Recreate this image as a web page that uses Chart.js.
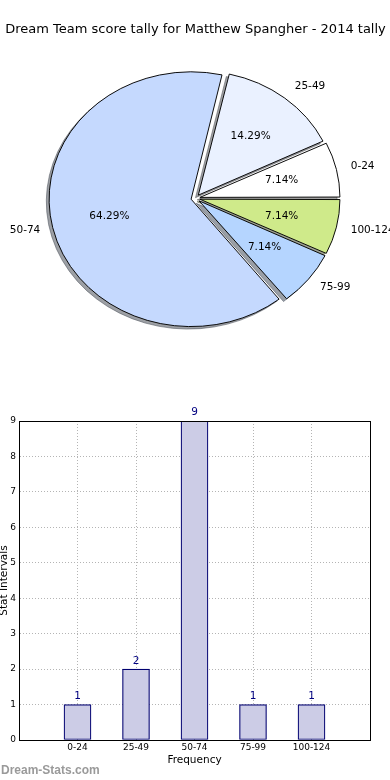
<!DOCTYPE html>
<html>
<head>
<meta charset="utf-8">
<script src="https://cdn.jsdelivr.net/npm/chart.js@4.4.1/dist/chart.umd.min.js"></script>
<style>
  body { margin: 0; background: #fff; }
  #wrap { position: relative; width: 390px; height: 780px; }
  canvas { position: absolute; left: 0; }
  #pieChart { top: 0; }
  #barChart { top: 380px; }
</style>
</head>
<body>
<div id="wrap">
  <canvas id="pieChart" width="390" height="380"></canvas>
  <canvas id="barChart" width="390" height="400"></canvas>
</div>
<script>
const titleText = 'Dream Team score tally for Matthew Spangher - 2014 tally'
const categories = ['0-24', '25-49', '50-74', '75-99', '100-124']
const counts = [1, 2, 9, 1, 1]
const sliceColors = ['#ffffff', '#eaf1ff', '#c5d9fe', '#b5d5ff', '#cfea8a']
const yTicks = [0, 1, 2, 3, 4, 5, 6, 7, 8, 9]

const font = 'DejaVu Sans'
const total = counts.reduce((a, b) => a + b, 0)

// matplotlib lays the slices out counter-clockwise from 3 o'clock,
// chart.js goes clockwise, so flip the order
const pieLabels = [...categories].reverse()
const pieValues = [...counts].reverse()
const pieColors = [...sliceColors].reverse()

const squash = 0.897 // the original pie is a bit flattened

function shadowOf(hex) {
  const n = parseInt(hex.slice(1), 16)
  const r = Math.round(((n >> 16) & 255) * 0.3)
  const g = Math.round(((n >> 8) & 255) * 0.3)
  const b = Math.round((n & 255) * 0.3)
  return `rgba(${r}, ${g}, ${b}, 0.5)`
}

const ellipsePie = {
  id: 'ellipsePie',
  beforeDatasetsDraw(chart) {
    const ctx = chart.ctx
    const arcs = chart.getDatasetMeta(0).data
    const cx = arcs[0].x
    const cy = arcs[0].y
    ctx.save()
    ctx.translate(cx, cy)
    ctx.scale(1, squash)
    ctx.translate(-cx, -cy)
    // shadows go under all the wedges
    arcs.forEach((arc, i) => {
      const off = (arc.options.offset || 0) / 4
      const mid = (arc.startAngle + arc.endAngle) / 2
      const span = arc.endAngle - arc.startAngle
      const r = arc.outerRadius + off * (1 - Math.sin(Math.min(Math.PI, span)))
      const ox = cx + Math.cos(mid) * off - 2.8
      const oy = cy + Math.sin(mid) * off + 2.8
      ctx.beginPath()
      ctx.moveTo(ox, oy)
      ctx.arc(ox, oy, r, arc.startAngle, arc.endAngle)
      ctx.closePath()
      ctx.fillStyle = shadowOf(pieColors[i])
      ctx.strokeStyle = shadowOf(pieColors[i])
      ctx.lineWidth = 1
      ctx.fill()
      ctx.stroke()
    })
  },
  afterDatasetsDraw(chart) {
    const ctx = chart.ctx
    ctx.restore()
    const arcs = chart.getDatasetMeta(0).data
    ctx.save()
    ctx.font = `10.5px ${font}`
    ctx.fillStyle = '#000'
    ctx.textBaseline = 'middle'
    arcs.forEach((arc, i) => {
      const off = (arc.options.offset || 0) / 4
      const mid = (arc.startAngle + arc.endAngle) / 2
      const at = (k) => {
        const d = off + k * arc.outerRadius
        return [arc.x + Math.cos(mid) * d, arc.y + Math.sin(mid) * d * squash]
      }
      const [lx, ly] = at(1.125)
      ctx.textAlign = Math.cos(mid) > 0 ? 'left' : 'right'
      ctx.fillText(pieLabels[i], lx, ly)
      const [px, py] = at(0.61)
      ctx.textAlign = 'center'
      ctx.fillText(((pieValues[i] / total) * 100).toFixed(2) + '%', px, py)
    })
    ctx.restore()
  },
}

new Chart(document.getElementById('pieChart'), {
  type: 'pie',
  data: {
    labels: pieLabels,
    datasets: [
      {
        data: pieValues,
        backgroundColor: pieColors,
        borderColor: '#000',
        borderWidth: 1,
        offset: 18,
      },
    ],
  },
  options: {
    responsive: false,
    animation: false,
    events: [],
    radius: 137.5,
    rotation: 90,
    layout: { padding: { left: 1, right: 0, top: 0, bottom: 23 } },
    plugins: {
      legend: { display: false },
      tooltip: { enabled: false },
      title: {
        display: true,
        text: titleText,
        color: '#000',
        font: { family: font, size: 13, weight: 'normal' },
        padding: { top: 22, bottom: 2 },
      },
    },
  },
  plugins: [ellipsePie],
})

const frame = {
  id: 'frame',
  afterDraw(chart) {
    const { ctx, chartArea: { left, top, right, bottom } } = chart
    ctx.save()
    ctx.strokeStyle = '#000'
    ctx.lineWidth = 1
    ctx.strokeRect(Math.round(left) + 0.5, Math.round(top) + 0.5,
      Math.round(right - left), Math.round(bottom - top))
    ctx.restore()
  },
}

const barValues = {
  id: 'barValues',
  afterDatasetsDraw(chart) {
    const ctx = chart.ctx
    ctx.save()
    ctx.font = `10.5px ${font}`
    ctx.fillStyle = '#000080'
    ctx.textAlign = 'center'
    ctx.textBaseline = 'bottom'
    chart.getDatasetMeta(0).data.forEach((bar, i) => {
      ctx.fillText(String(counts[i]), bar.x, bar.y - 3)
    })
    ctx.restore()
  },
}

const watermark = {
  id: 'watermark',
  afterDraw(chart) {
    const ctx = chart.ctx
    ctx.save()
    ctx.font = 'bold 12px "Liberation Sans"'
    ctx.fillStyle = '#9a9a9a'
    ctx.textAlign = 'left'
    ctx.textBaseline = 'alphabetic'
    ctx.fillText('Dream-Stats.com', 1, 394)
    ctx.restore()
  },
}

const gridStyle = { color: '#b4b4b4', lineWidth: 1, drawTicks: false, offset: false }
const borderStyle = { display: true, color: '#000', width: 1, dash: [1, 2] }

new Chart(document.getElementById('barChart'), {
  type: 'bar',
  data: {
    datasets: [
      {
        data: counts.map((v, i) => ({ x: i, y: v })),
        backgroundColor: '#ccccE6',
        borderColor: '#000070',
        borderWidth: 1.2,
        borderSkipped: false,
        barThickness: 27,
      },
    ],
  },
  options: {
    responsive: false,
    animation: false,
    events: [],
    layout: { padding: { left: 0, right: 20, top: 41, bottom: 0 } },
    plugins: {
      legend: { display: false },
      tooltip: { enabled: false },
    },
    scales: {
      x: {
        type: 'linear',
        min: -1,
        max: 5,
        offset: false,
        z: 1,
        afterBuildTicks: (scale) => {
          scale.ticks = categories.map((c, i) => ({ value: i }))
        },
        afterFit: (scale) => {
          scale.height = 40
        },
        ticks: {
          callback: (v) => categories[v],
          color: '#000',
          font: { family: font, size: 9 },
          padding: 2,
          maxRotation: 0,
          autoSkip: false,
        },
        grid: gridStyle,
        border: borderStyle,
        title: {
          display: true,
          text: 'Frequency',
          color: '#000',
          font: { family: font, size: 10.5 },
          padding: { top: 0, bottom: 13.7 },
        },
      },
      y: {
        min: 0,
        max: 9,
        z: 1,
        afterBuildTicks: (scale) => {
          scale.ticks = yTicks.map((v) => ({ value: v }))
        },
        afterFit: (scale) => {
          scale.width = 19
        },
        ticks: {
          color: '#000',
          font: { family: font, size: 9 },
          padding: 3,
        },
        grid: gridStyle,
        border: borderStyle,
        title: {
          display: true,
          text: 'Stat Intervals',
          color: '#000',
          font: { family: font, size: 10.5 },
          padding: { top: -2, bottom: 0 },
        },
      },
    },
  },
  plugins: [frame, barValues, watermark],
})
</script>
</body>
</html>
